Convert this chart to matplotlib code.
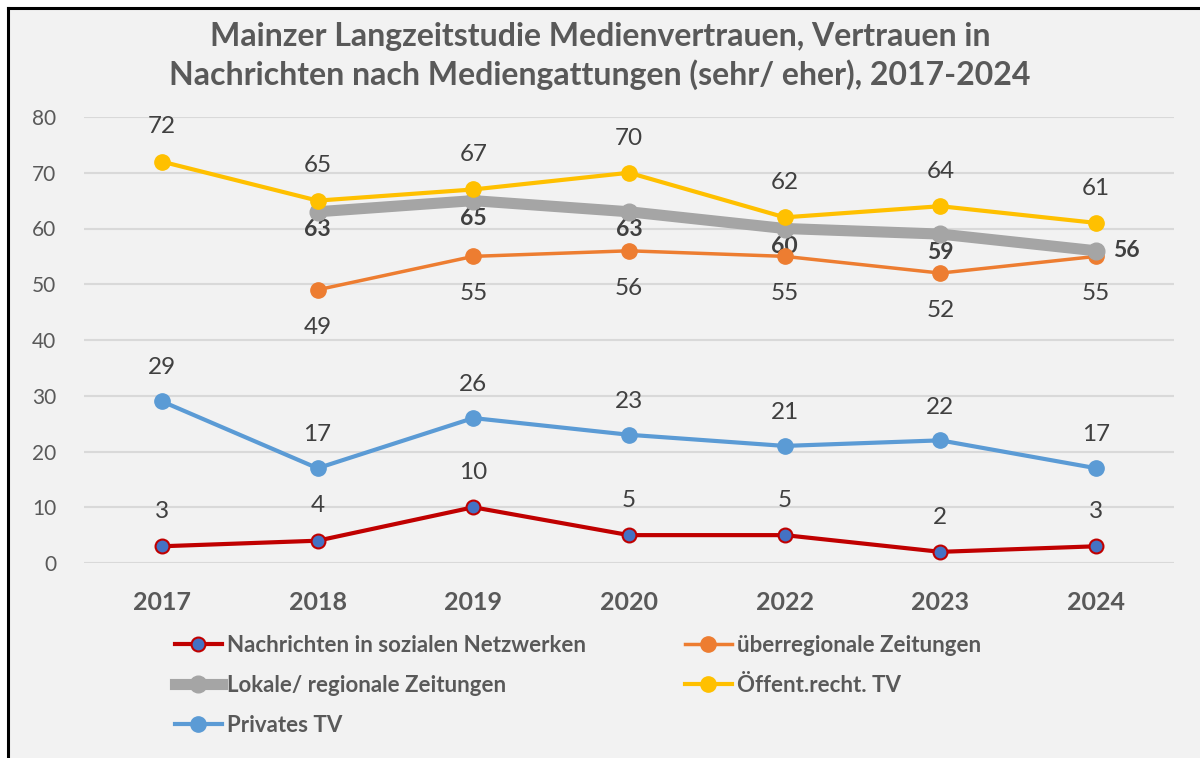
import numpy as np
import matplotlib.pyplot as plt
from matplotlib.lines import Line2D
from matplotlib.patches import Rectangle

plt.rcParams['font.family'] = ['Lato', 'DejaVu Sans']

years = ['2017', '2018', '2019', '2020', '2022', '2023', '2024']
soziale = [3, 4, 10, 5, 5, 2, 3]
ueberregional = [None, 49, 55, 56, 55, 52, 55]
lokal = [None, 63, 65, 63, 60, 59, 56]
oeffentlich = [72, 65, 67, 70, 62, 64, 61]
privat = [29, 17, 26, 23, 21, 22, 17]

title = 'Mainzer Langzeitstudie Medienvertrauen, Vertrauen in\nNachrichten nach Mediengattungen (sehr/ eher), 2017-2024'
names = ['Nachrichten in sozialen Netzwerken', 'überregionale Zeitungen',
         'Lokale/ regionale Zeitungen', 'Öffent.recht. TV', 'Privates TV']

txt = '#595959'
lab = '#404040'

fig = plt.figure(figsize=(12, 7.58), dpi=100, facecolor='white')
W, H = 1200, 758
fig.patches.append(Rectangle((7 / W, 0), 1, 1 - 8 / H, transform=fig.transFigure,
                             facecolor='#f2f2f2', edgecolor='none', zorder=-10))
fig.lines.append(Line2D([7.5 / W, 1], [1 - 8 / H, 1 - 8 / H], transform=fig.transFigure, color='black', lw=2.2))
fig.lines.append(Line2D([7.5 / W, 7.5 / W], [0, 1 - 8 / H], transform=fig.transFigure, color='black', lw=2.2))

ax = fig.add_axes([84 / W, 1 - 563 / H, (1174 - 84) / W, (563 - 117) / H])
ax.set_facecolor('none')
x = np.arange(len(years))


def series(vals):
    xs = [i for i, v in enumerate(vals) if v is not None]
    ys = [v for v in vals if v is not None]
    return np.array(xs), np.array(ys)


xs, ys = series(soziale)
ax.plot(xs, ys, color='#C00000', lw=3, marker='o', ms=10, mfc='#4472C4', mec='#C00000', mew=1.5, zorder=3)
for a, b in zip(xs, ys):
    ax.annotate(str(b), (a, b), xytext=(0, 25), textcoords='offset points', ha='center', va='center',
                fontsize=17.5, color=lab)

xs, ys = series(ueberregional)
ax.plot(xs, ys, color='#ED7D31', lw=2.5, marker='o', ms=11, zorder=4)
for a, b in zip(xs, ys):
    ax.annotate(str(b), (a, b), xytext=(0, -27), textcoords='offset points', ha='center', va='center',
                fontsize=17.5, color=lab)

xs, ys = series(lokal)
ax.plot(xs, ys, color='#A5A5A5', lw=8, marker='o', ms=12, zorder=5)
for a, b in zip(xs, ys):
    if a == len(years) - 1:
        off = (22, 0)
    else:
        off = (0, -13)
    ax.annotate(str(b), (a, b), xytext=off, textcoords='offset points', ha='center', va='center',
                fontsize=16.5, color=lab, fontweight='bold')

xs, ys = series(oeffentlich)
ax.plot(xs, ys, color='#FFC000', lw=3, marker='o', ms=11, zorder=6)
for a, b in zip(xs, ys):
    ax.annotate(str(b), (a, b), xytext=(0, 25), textcoords='offset points', ha='center', va='center',
                fontsize=17.5, color=lab)

xs, ys = series(privat)
ax.plot(xs, ys, color='#5B9BD5', lw=3, marker='o', ms=11, zorder=7)
for a, b in zip(xs, ys):
    ax.annotate(str(b), (a, b), xytext=(0, 24), textcoords='offset points', ha='center', va='center',
                fontsize=17.5, color=lab)

ax.set_xlim(-0.5, len(years) - 0.5)
ax.set_ylim(0, 80)
ax.set_yticks(range(0, 81, 10))
ax.set_xticks(x)
ax.set_xticklabels(years, fontsize=18, fontweight='bold', color=txt)
ax.tick_params(axis='y', labelsize=15, colors=txt, length=0, pad=20)
ax.tick_params(axis='x', length=0, pad=20)
ax.grid(axis='y', color='#d9d9d9', lw=1.5)
ax.set_axisbelow(True)
for s in ax.spines.values():
    s.set_visible(False)

fig.text(0.5, 1 - 56 / H, title, ha='center', va='center', fontsize=23, fontweight='bold',
         color=txt, linespacing=1.3)

handles = [
    Line2D([], [], color='#C00000', lw=3, marker='o', ms=10, mfc='#4472C4', mec='#C00000', mew=1.5),
    Line2D([], [], color='#A5A5A5', lw=8, marker='o', ms=12),
    Line2D([], [], color='#5B9BD5', lw=3, marker='o', ms=11),
    Line2D([], [], color='#ED7D31', lw=2.5, marker='o', ms=11),
    Line2D([], [], color='#FFC000', lw=3, marker='o', ms=11),
]
leg_labels = [names[0], names[2], names[4], names[1], names[3]]
leg = fig.legend(handles, leg_labels, loc='upper left', bbox_to_anchor=(155 / W, 1 - 615 / H), ncol=2,
                 frameon=False, handlelength=2.1, handletextpad=0.25, columnspacing=4.45, labelspacing=0.85,
                 prop={'weight': 'bold', 'size': 16})
for t in leg.get_texts():
    t.set_color(txt)

fig.savefig('out.png', dpi=100, facecolor=fig.get_facecolor())
